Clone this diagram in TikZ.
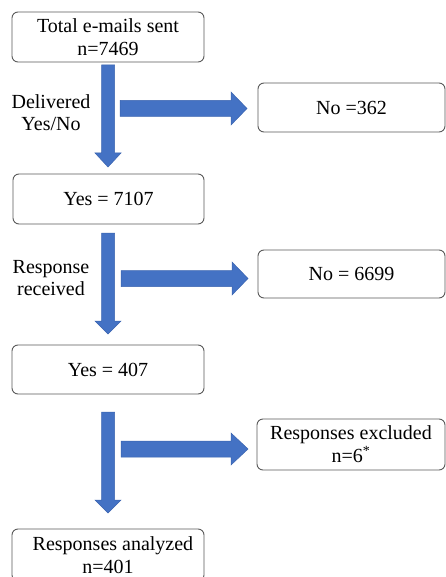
\documentclass[tikz,border=0pt]{standalone}
\usepackage{fontspec}
\setmainfont{Liberation Serif}
\definecolor{arrowblue}{HTML}{4472C4}
\definecolor{arrowedge}{HTML}{3A64B0}
\definecolor{boxgray}{HTML}{5A5A5A}
\tikzset{
  box/.style={draw=boxgray, rounded corners=6pt, line width=0.9pt, fill=white,
    align=center, font=\fontsize{20}{23}\selectfont, inner sep=0pt},
  lbl/.style={align=center, font=\fontsize{20}{22}\selectfont, inner sep=0pt},
  blockarrow/.style={fill=arrowblue, draw=arrowedge, line width=0.5pt}
}
\begin{document}
\begin{tikzpicture}[x=1pt,y=-1pt]
\clip (0,0) rectangle (446,577);
\fill[white] (0,0) rectangle (446,577);

% boxes
\node[box, minimum width=192pt, minimum height=50pt] (total) at (108,37) {Total e-mails sent\\n=7469};
\node[box, minimum width=187pt, minimum height=49pt] (no1) at (351.5,107.5) {No =362};
\node[box, minimum width=191pt, minimum height=50pt] (yes1) at (108.5,199) {Yes = 7107};
\node[box, minimum width=187pt, minimum height=48pt] (no2) at (351.5,274) {No = 6699};
\node[box, minimum width=192pt, minimum height=49pt] (yes2) at (108,369.5) {Yes = 407};
\node[box, minimum width=188pt, minimum height=51pt] (excl) at (351,444.5) {Responses excluded\\n=6\textsuperscript{*}};
\node[box, minimum width=192pt, minimum height=52pt] (anal) at (108,555) {\hspace{10pt}Responses analyzed\\n=401};

% side labels
\node[lbl] (lab1) at (51,113) {Delivered\\Yes/No};
\node[lbl] (lab2) at (51,278) {Response\\received};

% block arrows: down
\draw[blockarrow] (101.5,65) -- (114.5,65) -- (114.5,153) -- (121,153) -- (108,167) -- (95,153) -- (101.5,153) -- cycle;
\draw[blockarrow] (101.5,233) -- (114.5,233) -- (114.5,321) -- (121,321) -- (108,334) -- (95,321) -- (101.5,321) -- cycle;
\draw[blockarrow] (101.5,412) -- (114.5,412) -- (114.5,500) -- (121,500) -- (108,513) -- (95,500) -- (101.5,500) -- cycle;

% block arrows: right
\draw[blockarrow] (120,100.5) -- (231,100.5) -- (231,92) -- (247,108.5) -- (231,125) -- (231,116.5) -- (120,116.5) -- cycle;
\draw[blockarrow] (121,270.5) -- (232,270.5) -- (232,262) -- (248,278.5) -- (232,295) -- (232,286.5) -- (121,286.5) -- cycle;
\draw[blockarrow] (121,441) -- (231,441) -- (231,433) -- (248,449) -- (231,465) -- (231,457) -- (121,457) -- cycle;
\end{tikzpicture}
\end{document}
